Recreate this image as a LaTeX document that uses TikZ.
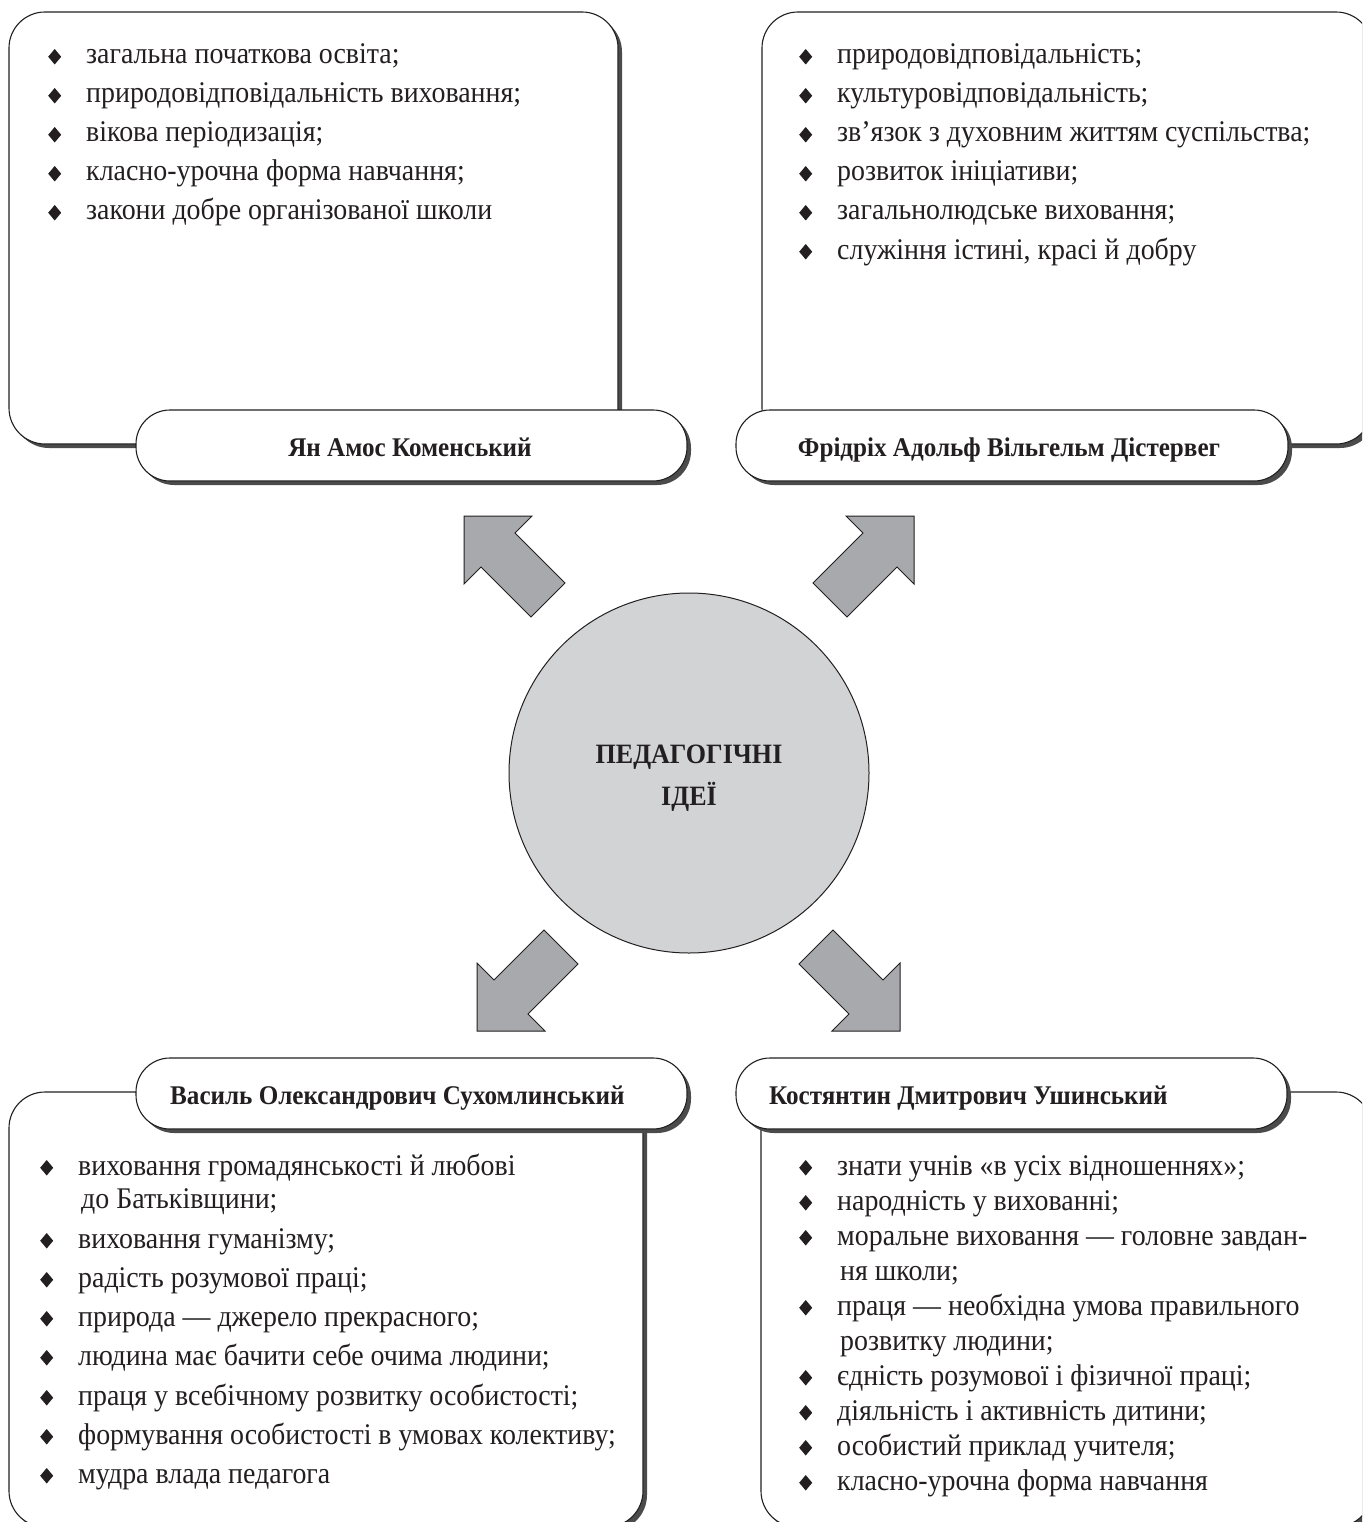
\documentclass[tikz,border=0pt]{standalone}
\usepackage{fontspec}
\setmainfont{Liberation Serif}[FakeStretch=0.93]
\usetikzlibrary{shadows}
\definecolor{circfill}{RGB}{209,211,212}
\definecolor{arrfill}{RGB}{167,169,172}
\definecolor{shad}{RGB}{75,75,75}
\definecolor{ink}{RGB}{35,31,32}
\newcommand\bul{\makebox[0pt][r]{\tikz[x=1pt,y=1pt,baseline=0pt]\fill[ink] (0,-0.5) -- (6.5,7.25) -- (0,15) -- (-6.5,7.25) -- cycle;\hspace{25pt}}}
\tikzset{
  boxshadow/.style={drop shadow={shadow xshift=4pt, shadow yshift=-4pt, fill=shad, opacity=1}},
  bigbox/.style={draw=ink, line width=1.1pt, fill=white, rounded corners=36pt, inner sep=0pt, boxshadow},
  pill/.style={draw=ink, line width=1.1pt, fill=white, rounded corners=34pt, inner sep=0pt,
    minimum height=71pt, boxshadow},
  pilltext/.style={inner sep=0pt, text=ink, font=\bfseries\fontsize{27}{30}\selectfont},
  item/.style={anchor=base west, inner sep=0pt, text=ink, font=\fontsize{30}{34}\selectfont},
  centretext/.style={anchor=base, inner sep=0pt, text=ink, font=\bfseries\fontsize{28}{30}\selectfont},
  blockarrow/.style={draw=ink, line width=1pt, fill=arrfill, line join=miter},
}
\begin{document}
\begin{tikzpicture}[x=1pt, y=-1pt]
\useasboundingbox (0,0) rectangle (1362,1522);
\clip (0,0) rectangle (1362,1522);

% ---- big boxes ----
\node[bigbox, minimum width=609pt, minimum height=432pt] (tlbox) at (313.5,228) {};
\node[bigbox, minimum width=610pt, minimum height=432pt] (trbox) at (1067,228) {};
\node[bigbox, minimum width=634pt, minimum height=435pt] (blbox) at (326,1309.5) {};
\node[bigbox, minimum width=611pt, minimum height=435pt] (brbox) at (1066.5,1309.5) {};

% ---- name pills ----
\node[pill, minimum width=551pt] (tlpill) at (411.5,445.5) {};
\node[pilltext, anchor=base] (tlname) at (410,456) {Ян Амос Коменський};
\node[pill, minimum width=552pt] (trpill) at (1012,445.5) {};
\node[pilltext, anchor=base] (trname) at (1009,456) {Фрідріх Адольф Вільгельм Дістервег};
\node[pill, minimum width=551pt] (blpill) at (411.5,1093.5) {};
\node[pilltext, anchor=base west] (blname) at (170,1104) {Василь Олександрович Сухомлинський};
\node[pill, minimum width=551pt] (brpill) at (1011.5,1093.5) {};
\node[pilltext, anchor=base west] (brname) at (769,1104) {Костянтин Дмитрович Ушинський};

% ---- top-left list ----
\node[item] (tl1) at (86,64) {\bul загальна початкова освіта;};
\node[item] (tl2) at (86,103) {\bul природовідповідальність виховання;};
\node[item] (tl3) at (86,142) {\bul вікова періодизація;};
\node[item] (tl4) at (86,181) {\bul класно-урочна форма навчання;};
\node[item] (tl5) at (86,220) {\bul закони добре організованої школи};

% ---- top-right list ----
\node[item] (tr1) at (837,64) {\bul природовідповідальність;};
\node[item] (tr2) at (837,103) {\bul культуровідповідальність;};
\node[item] (tr3) at (837,142) {\bul зв’язок з духовним життям суспільства;};
\node[item] (tr4) at (837,181) {\bul розвиток ініціативи;};
\node[item] (tr5) at (837,220) {\bul загальнолюдське виховання;};
\node[item] (tr6) at (837,259) {\bul служіння істині, красі й добру};

% ---- bottom-left list ----
\node[item] (bl1) at (78,1175) {\bul виховання громадянськості й любові};
\node[item] (bl1b) at (81,1208) {до Батьківщини;};
\node[item] (bl2) at (78,1248) {\bul виховання гуманізму;};
\node[item] (bl3) at (78,1287) {\bul радість розумової праці;};
\node[item] (bl4) at (78,1326) {\bul природа — джерело прекрасного;};
\node[item] (bl5) at (78,1365) {\bul людина має бачити себе очима людини;};
\node[item] (bl6) at (78,1405) {\bul праця у всебічному розвитку особистості;};
\node[item] (bl7) at (78,1444) {\bul формування особистості в умовах колективу;};
\node[item] (bl8) at (78,1483) {\bul мудра влада педагога};

% ---- bottom-right list ----
\node[item] (br1) at (837,1175) {\bul знати учнів «в усіх відношеннях»;};
\node[item] (br2) at (837,1210) {\bul народність у вихованні;};
\node[item] (br3) at (837,1245) {\bul моральне виховання — головне завдан-};
\node[item] (br3b) at (840,1280) {ня школи;};
\node[item] (br4) at (837,1315) {\bul праця — необхідна умова правильного};
\node[item] (br4b) at (840,1350) {розвитку людини;};
\node[item] (br5) at (837,1385) {\bul єдність розумової і фізичної праці;};
\node[item] (br6) at (837,1420) {\bul діяльність і активність дитини;};
\node[item] (br7) at (837,1455) {\bul особистий приклад учителя;};
\node[item] (br8) at (837,1490) {\bul класно-урочна форма навчання};

% ---- centre ----
\node[circle, draw=ink, line width=1pt, fill=circfill, minimum size=360pt, inner sep=0pt] (centre) at (689,773) {};
\node[centretext] (ct1) at (689,763) {ПЕДАГОГІЧНІ};
\node[centretext] (ct2) at (689,805) {ІДЕЇ};

% ---- block arrows ----
\coordinate (atl) at (464,516);
\coordinate (atr) at (914,516);
\coordinate (abl) at (477,1031);
\coordinate (abr) at (900,1031);
\draw[blockarrow] (atl) -- ++(68,0) -- ++(-17,17) -- ++(50,50) -- ++(-34,34) -- ++(-50,-50) -- ++(-17,17) -- cycle;
\draw[blockarrow] (atr) -- ++(-68,0) -- ++(17,17) -- ++(-50,50) -- ++(34,34) -- ++(50,-50) -- ++(17,17) -- cycle;
\draw[blockarrow] (abl) -- ++(68,0) -- ++(-17,-17) -- ++(50,-50) -- ++(-34,-34) -- ++(-50,50) -- ++(-17,-17) -- cycle;
\draw[blockarrow] (abr) -- ++(-68,0) -- ++(17,-17) -- ++(-50,-50) -- ++(34,-34) -- ++(50,50) -- ++(17,-17) -- cycle;
\end{tikzpicture}
\end{document}
